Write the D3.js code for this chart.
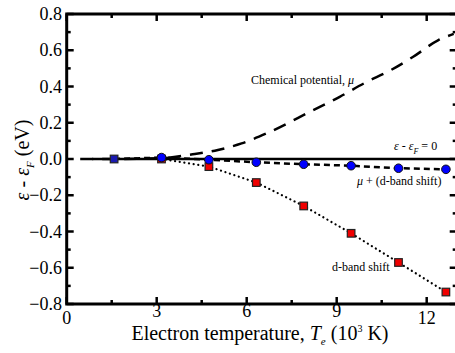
<!DOCTYPE html>
<html>
<head>
<meta charset="utf-8">
<script src="https://cdn.jsdelivr.net/npm/d3@7"></script>
<style>
  body { margin: 0; background: #fff; }
  text { font-family: "Liberation Serif", "Times New Roman", Times, "DejaVu Serif", serif; }
</style>
</head>
<body>
<div id="chart"></div>
<script>
// electron temperature (10^3 K)
const temps = [1.58, 3.16, 4.74, 6.32, 7.9, 9.48, 11.06, 12.64];
const dBand = [0.0, 0.0, -0.042, -0.13, -0.259, -0.41, -0.571, -0.734];
const muDBand = [0.0, 0.008, -0.004, -0.018, -0.029, -0.037, -0.051, -0.057];
// chemical potential curve
const muT = [0.45, 1.58, 3.16, 4.2, 5.04, 5.83, 6.67, 8.22, 9.1, 9.94, 10.8, 11.55, 12.39, 12.9];
const muVal = [0.0, 0.0, 0.005, 0.026, 0.05, 0.086, 0.142, 0.27, 0.343, 0.42, 0.49, 0.564, 0.656, 0.69];
const xTicks = [0, 3, 6, 9, 12];
const yTicks = [-0.8, -0.6, -0.4, -0.2, 0.0, 0.2, 0.4, 0.6, 0.8];

const W = 455, H = 353;
const serif = "'Liberation Serif', 'Times New Roman', Times, 'DejaVu Serif', serif";
const svg = d3.select("#chart").append("svg").attr("width", W).attr("height", H)
  .attr("font-family", serif);

const x = d3.scaleLinear().domain([0, 13]).range([66.7, 456.7]);
const y = d3.scaleLinear().domain([-0.8, 0.8]).range([304, 14]);

svg.append("clipPath").attr("id", "clip").append("rect")
  .attr("x", x(0)).attr("y", y(0.8)).attr("width", x(13) - x(0)).attr("height", y(-0.8) - y(0.8));

const plot = svg.append("g").attr("clip-path", "url(#clip)");

// zero line
plot.append("line")
  .attr("x1", x(0.85)).attr("x2", x(13))
  .attr("y1", y(0)).attr("y2", y(0))
  .attr("stroke", "#000").attr("stroke-width", 2.5);

const line = d3.line().x(d => x(d[0])).y(d => y(d[1]));

// chemical potential
plot.append("path")
  .datum(muT.map((t, i) => [t, muVal[i]]))
  .attr("d", d3.line().x(d => x(d[0])).y(d => y(d[1])).curve(d3.curveMonotoneX))
  .attr("fill", "none").attr("stroke", "#000").attr("stroke-width", 2.5)
  .attr("stroke-dasharray", "13,9");

// d-band shift
const dPts = temps.map((t, i) => [t, dBand[i]]);
plot.append("path")
  .attr("d", line(dPts))
  .attr("fill", "none").attr("stroke", "#000").attr("stroke-width", 2.2)
  .attr("stroke-linecap", "round")
  .attr("stroke-dasharray", "0.1,4.6");

// mu + d-band shift
const mPts = temps.map((t, i) => [t, muDBand[i]]);
plot.append("path")
  .attr("d", line(mPts))
  .attr("fill", "none").attr("stroke", "#000").attr("stroke-width", 2.5)
  .attr("stroke-dasharray", "6,4");

plot.selectAll("rect.sq").data(dPts).enter().append("rect")
  .attr("class", "sq")
  .attr("x", d => x(d[0]) - 3.8).attr("y", d => y(d[1]) - 3.8)
  .attr("width", 7.6).attr("height", 7.6)
  .attr("fill", (d, i) => i === 0 ? "#1a1ab0" : "#f00000")
  .attr("stroke", "#222").attr("stroke-width", 1.2);

plot.selectAll("circle").data(mPts.slice(1)).enter().append("circle")
  .attr("cx", d => x(d[0])).attr("cy", d => y(d[1]))
  .attr("r", 4.3)
  .attr("fill", "#0000ff").attr("stroke", "#111").attr("stroke-width", 1);

// frame with inward ticks
const frame = svg.append("g");
frame.append("rect")
  .attr("x", x(0)).attr("y", y(0.8)).attr("width", x(13) - x(0)).attr("height", y(-0.8) - y(0.8))
  .attr("fill", "none").attr("stroke", "#000").attr("stroke-width", 3);

const xMinor = d3.range(1.5, 13, 3);
const yMinor = d3.range(-0.7, 0.8, 0.2);

xTicks.concat(xMinor).forEach(t => {
  const len = xTicks.includes(t) ? 7 : 4;
  [[y(-0.8), -1], [y(0.8), 1]].forEach(([yy, s]) => {
    frame.append("line").attr("x1", x(t)).attr("x2", x(t))
      .attr("y1", yy).attr("y2", yy + s * len)
      .attr("stroke", "#000").attr("stroke-width", 2.5);
  });
});
yTicks.concat(yMinor).forEach(t => {
  const major = yTicks.some(v => Math.abs(v - t) < 1e-6);
  const len = major ? 7 : 4;
  [[x(0), 1], [x(13), -1]].forEach(([xx, s]) => {
    frame.append("line").attr("x1", xx).attr("x2", xx + s * len)
      .attr("y1", y(t)).attr("y2", y(t))
      .attr("stroke", "#000").attr("stroke-width", 2.5);
  });
});

// tick labels
svg.append("g").selectAll("text").data(yTicks).enter().append("text")
  .attr("x", 62).attr("y", d => y(d) + 6)
  .attr("text-anchor", "end").attr("font-size", 18)
  .text(d => d3.format(".1f")(d));

svg.append("g").selectAll("text").data(xTicks).enter().append("text")
  .attr("x", d => x(d)).attr("y", d => (d === 0 || d === 12) ? 324 : 317)
  .attr("text-anchor", "middle").attr("font-size", 18)
  .text(d => d);

// x label
const xl = svg.append("text").attr("x", 260).attr("y", 340)
  .attr("text-anchor", "middle").attr("font-size", 20);
xl.append("tspan").text("Electron temperature, ");
xl.append("tspan").attr("font-style", "italic").text("T");
xl.append("tspan").attr("font-size", 11).attr("font-style", "italic").attr("dy", 5).text("e");
xl.append("tspan").attr("dy", -5).text(" (10");
xl.append("tspan").attr("font-size", 10).attr("dy", -8).text("3");
xl.append("tspan").attr("dy", 8).text(" K)");

// y label
const yl = svg.append("text").attr("transform", "translate(29,160) rotate(-90)")
  .attr("text-anchor", "middle").attr("font-size", 20);
yl.append("tspan").attr("font-style", "italic").text("ε");
yl.append("tspan").text(" - ");
yl.append("tspan").attr("font-style", "italic").text("ε");
yl.append("tspan").attr("font-size", 11).attr("font-style", "italic").attr("dy", 5).text("F");
yl.append("tspan").attr("dy", -5).text(" (eV)");

// annotations
const a1 = svg.append("text").attr("x", 251).attr("y", 84).attr("font-size", 12);
a1.append("tspan").text("Chemical potential, ");
a1.append("tspan").attr("font-style", "italic").text("μ");

const a2 = svg.append("text").attr("x", 394).attr("y", 150).attr("font-size", 12);
a2.append("tspan").attr("font-style", "italic").text("ε");
a2.append("tspan").text(" - ");
a2.append("tspan").attr("font-style", "italic").text("ε");
a2.append("tspan").attr("font-size", 8).attr("font-style", "italic").attr("dy", 4).text("F");
a2.append("tspan").attr("dy", -4).text(" = 0");

const a3 = svg.append("text").attr("x", 357).attr("y", 185).attr("font-size", 12);
a3.append("tspan").attr("font-style", "italic").text("μ");
a3.append("tspan").text(" + (d-band shift)");

svg.append("text").attr("x", 332).attr("y", 271).attr("font-size", 12).text("d-band shift");
</script>
</body>
</html>
